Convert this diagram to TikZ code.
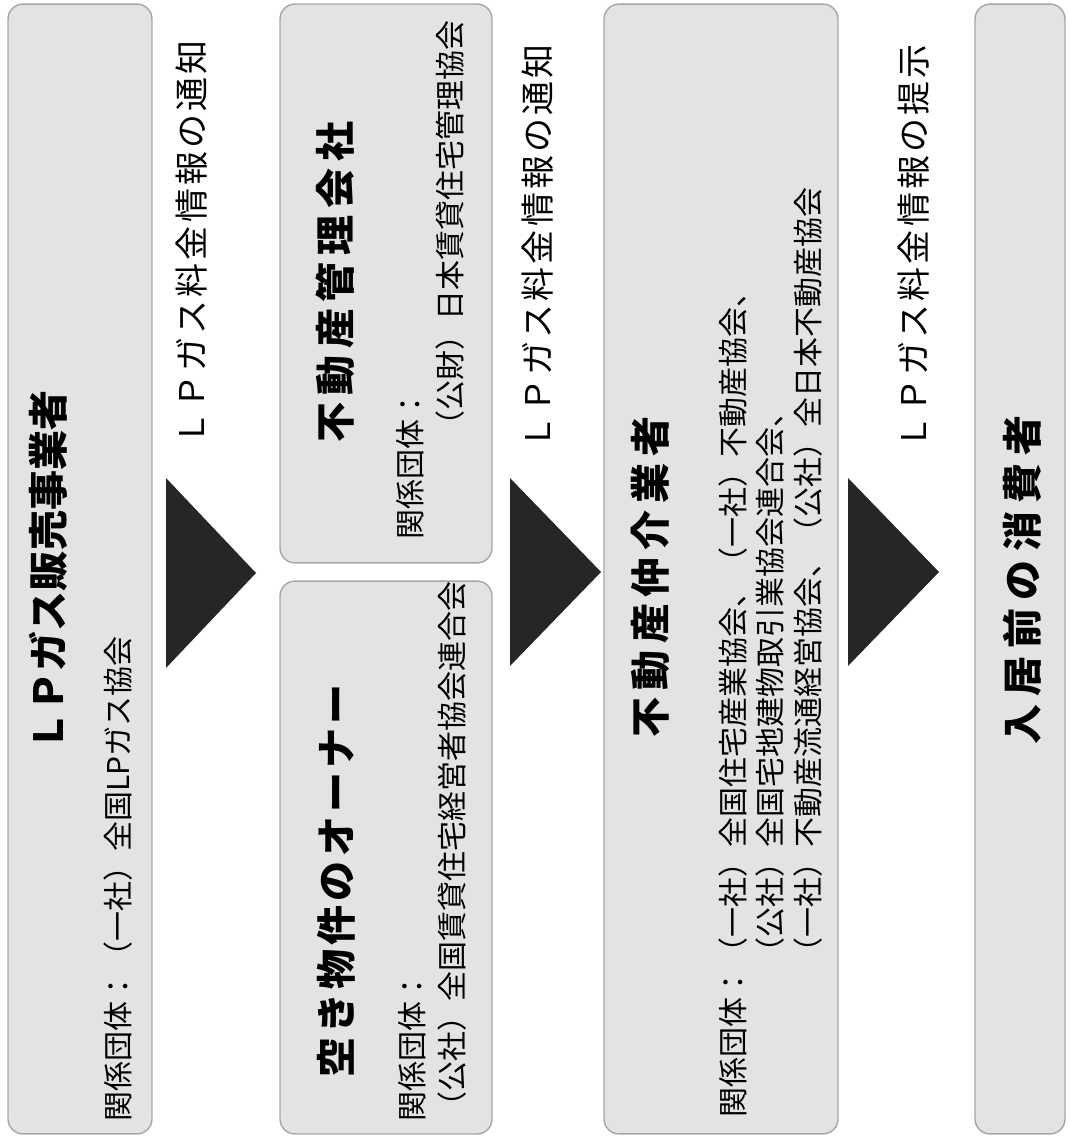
\documentclass[tikz,border=0pt]{standalone}
\usepackage{fontspec}
\setmainfont{Noto Sans CJK JP}

\begin{document}
\begin{tikzpicture}[x = 0.02cm, y = -0.02cm,
    stage/.style = {draw = black!35, fill = black!11, line width = 0.8pt, rounded corners = 0.3cm},
    heading/.style = {rotate = 90, inner sep = 0pt,
        font = \fontsize{22.8}{27}\selectfont\bfseries\addfontfeatures{LetterSpace = #1}},
    heading/.default = 0,
    members/.style = {rotate = 90, anchor = north west, inner sep = 0pt, align = left,
        font = \fontsize{17.07}{22.8}\selectfont},
    notice/.style = {rotate = 90, inner sep = 0pt,
        font = \fontsize{19.35}{24}\selectfont\addfontfeatures{LetterSpace = 9}},
    pointer/.style = {fill = black!85}]
    \useasboundingbox (0,0) rectangle (1069,1141);

    % the five parties
    \node[stage, minimum width = 2.88cm, minimum height = 22.6cm] (seller) at (80,569) {};
    \node[stage, minimum width = 4.24cm, minimum height = 11.18cm] (manager) at (386,283.5) {};
    \node[stage, minimum width = 4.24cm, minimum height = 11.06cm] (owner) at (386,857.5) {};
    \node[stage, minimum width = 4.68cm, minimum height = 22.6cm] (broker) at (721,569) {};
    \node[stage, minimum width = 1.8cm, minimum height = 22.6cm] (tenant) at (1020,569) {};

    \node[heading] (sellername) at (48,571) {ＬＰガス販売事業者};
    \node[heading = 17] (managername) at (335,282) {不動産管理会社};
    \node[heading = 10] (ownername) at (336,881) {空き物件のオーナー};
    \node[heading = 17] (brokername) at (650,577) {不動産仲介業者};
    \node[heading = 20] (tenantname) at (1022,580) {入居前の消費者};

    \node[members] (sellergroups) at (103,1122) {関係団体：（一社）全国LPガス協会};
    \node[members] (managergroups) at (396,540)
        {関係団体：\\\hspace*{3.3em}（公財）日本賃貸住宅管理協会};
    \node[members] (ownergroups) at (398,1122)
        {関係団体：\\（公社）全国賃貸住宅経営者協会連合会};
    \node[members, font = \fontsize{17.07}{21.6}\selectfont] (brokergroups) at (718,1118)
        {関係団体：（一社）全国住宅産業協会、（一社）不動産協会、\\
         \hphantom{関係団体：}（公社）全国宅地建物取引業協会連合会、\\
         \hphantom{関係団体：}（一社）不動産流通経営協会、（公社）全日本不動産協会};

    % flow of the price information
    \fill[pointer] (166,478) -- (166,668) -- (256,573) -- cycle;
    \fill[pointer] (510,478) -- (510,666) -- (601,572) -- cycle;
    \fill[pointer] (848,478) -- (848,666) -- (939,572) -- cycle;

    \node[notice] (notice1) at (192,243) {ＬＰガス料金情報の通知};
    \node[notice] (notice2) at (538,247) {ＬＰガス料金情報の通知};
    \node[notice] (notice3) at (914,247) {ＬＰガス料金情報の提示};
\end{tikzpicture}
\end{document}
